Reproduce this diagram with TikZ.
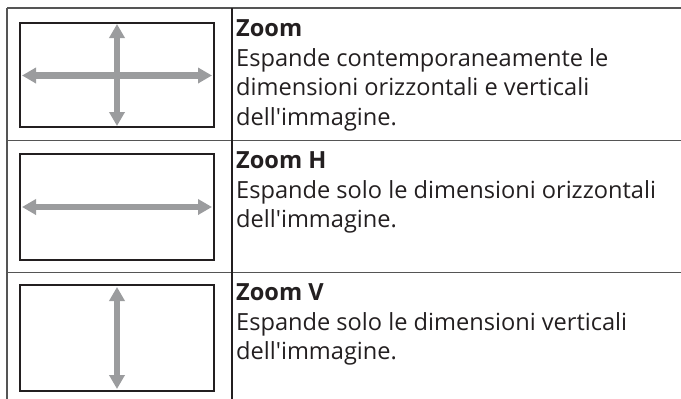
\documentclass[tikz,border=0pt]{standalone}
\usepackage{fontspec}
\setmainfont{Open Sans}[Ligatures=TeXOff]
\usetikzlibrary{arrows.meta}
\definecolor{txt}{HTML}{231F20}
\definecolor{rule}{HTML}{555555}
\definecolor{arr}{HTML}{9B9C9E}
\tikzset{
  rulel/.style={draw=rule, line width=1.3pt},
  coll/.style={draw=txt, line width=1.3pt},
  screen/.style={draw=txt, line width=2.6pt},
  zarrow/.style={draw=arr, line width=6.5pt, {Triangle[length=14pt,width=15pt]}-{Triangle[length=14pt,width=15pt]}, shorten <=0pt, shorten >=0pt},
  ttl/.style={anchor=base west, inner sep=0pt, text=txt, font=\fontsize{23.6}{29.5}\selectfont\bfseries},
  dsc/.style={anchor=base west, inner sep=0pt, text=txt, font=\fontsize{23.6}{29.5}\selectfont},
}
\begin{document}
\begin{tikzpicture}[x=1pt,y=-1pt]
\useasboundingbox (0,0) rectangle (681,399);
% table rules
\coordinate (tl) at (7,8);
\coordinate (tr) at (681,8);
\coordinate (r1l) at (7,140.5);
\coordinate (r1r) at (681,140.5);
\coordinate (r2l) at (7,272.5);
\coordinate (r2r) at (681,272.5);
\coordinate (bl) at (7,399);
\coordinate (ct) at (232,8);
\coordinate (cb) at (232,399);
\draw[rulel] (tl) -- (tr);
\draw[rulel] (r1l) -- (r1r);
\draw[rulel] (r2l) -- (r2r);
\draw[rulel] (tl) -- (bl);
\draw[coll] (ct) -- (cb);
% screens
\draw[screen] (20,23) rectangle (214,127);
\draw[screen] (20,154) rectangle (214,260);
\draw[screen] (20,285) rectangle (214,391);
% arrows row 1
\coordinate (a1l) at (22,75.5);
\coordinate (a1r) at (212,75.5);
\coordinate (a1t) at (117,24);
\coordinate (a1b) at (117,126);
\draw[zarrow] (a1l) -- (a1r);
\draw[zarrow] (a1t) -- (a1b);
% arrow row 2
\coordinate (a2l) at (22,207);
\coordinate (a2r) at (212,207);
\draw[zarrow] (a2l) -- (a2r);
% arrow row 3
\coordinate (a3t) at (117,287);
\coordinate (a3b) at (117,389);
\draw[zarrow] (a3t) -- (a3b);
% texts
\node[ttl] (t1) at (236,36) {Zoom};
\node[dsc] (d1a) at (236,66) {Espande contemporaneamente le};
\node[dsc] (d1b) at (236,95.5) {dimensioni orizzontali e verticali};
\node[dsc] (d1c) at (236,125) {dell'immagine.};
\node[ttl] (t2) at (236,168.5) {Zoom H};
\node[dsc] (d2a) at (236,198) {Espande solo le dimensioni orizzontali};
\node[dsc] (d2b) at (236,227.5) {dell'immagine.};
\node[ttl] (t3) at (236,300.5) {Zoom V};
\node[dsc] (d3a) at (236,330) {Espande solo le dimensioni verticali};
\node[dsc] (d3b) at (236,359.5) {dell'immagine.};
\end{tikzpicture}
\end{document}
